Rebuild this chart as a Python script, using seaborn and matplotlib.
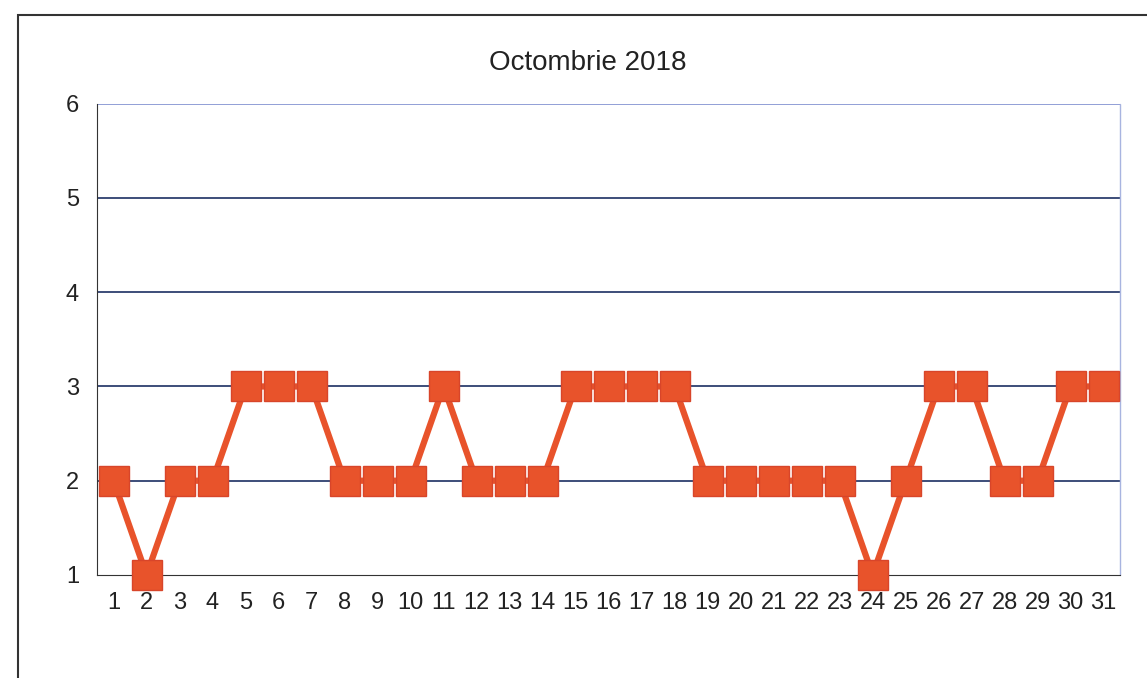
import numpy as np
import pandas as pd
import matplotlib
matplotlib.use("Agg")
import matplotlib.pyplot as plt
import seaborn as sns

zile = list(range(1, 32))
valori = [2, 1, 2, 2, 3, 3, 3, 2, 2, 2, 3, 2, 2, 2, 3, 3, 3, 3,
          2, 2, 2, 2, 2, 1, 2, 3, 3, 2, 2, 3, 3]
titlu = "Octombrie 2018"

df = pd.DataFrame({"zi": zile, "valoare": valori})

sns.set_style("white")
plt.rcParams['font.family'] = ['Liberation Sans', 'DejaVu Sans']

fig = plt.figure(figsize=(11.47, 6.78), dpi=100)
ax = fig.add_axes([0.0846, 0.152, 0.892, 0.695])

# chenarul exterior al graficului
fig.patches.append(plt.Rectangle((0.016, -0.05), 1.2, 1.028, transform=fig.transFigure,
                                 fill=False, edgecolor="#333333", linewidth=1.5))

for y in [2, 3, 4, 5]:
    ax.axhline(y, color="#2d3f6e", linewidth=1.3, zorder=1)
ax.axhline(6, color="#7f8fcf", linewidth=1.2, zorder=1)

sns.lineplot(data=df, x="zi", y="valoare", ax=ax, color="#e8532b",
             linewidth=4.5, marker="s", markersize=21, markeredgecolor="#d8452a",
             markeredgewidth=1, zorder=3, clip_on=False)

ax.set_xlim(0.5, 31.5)
ax.set_ylim(1, 6)
ax.set_xticks(zile)
ax.set_yticks([1, 2, 3, 4, 5, 6])
ax.tick_params(axis="both", labelsize=17, colors="#222222", length=5, width=1)
ax.tick_params(axis="x", pad=8, direction="inout", length=8)
ax.tick_params(axis="y", pad=8)
ax.set_xlabel("")
ax.set_ylabel("")

for s in ["top", "right"]:
    ax.spines[s].set_visible(False)
ax.spines["left"].set_color("#333333")
ax.spines["bottom"].set_color("#333333")
ax.plot([1, 1], [0, 1], transform=ax.transAxes, color="#a8b4e0", linewidth=1, clip_on=False)

fig.text(0.512, 0.907, titlu, ha="center", va="center", fontsize=20, color="#222222")

fig.savefig("out.png", dpi=100, facecolor="white")
